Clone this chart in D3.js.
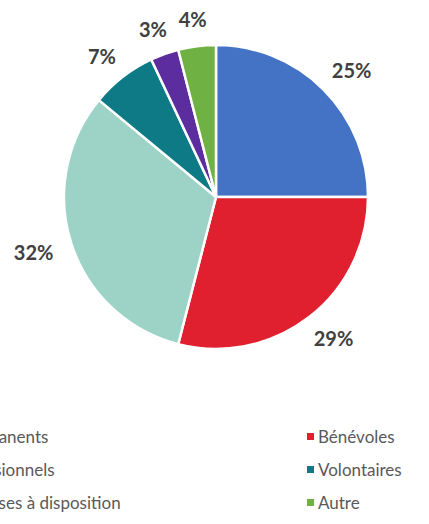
<!DOCTYPE html>
<html>
<head>
<meta charset="utf-8">
<script src="https://cdn.jsdelivr.net/npm/d3@7"></script>
<style>
  html, body { margin: 0; padding: 0; background: #fff; overflow: hidden; }
  svg { display: block; }
</style>
</head>
<body>
<div id="chart"></div>
<script>

	//----------------------------
	// Data
	//----------------------------

	var categories = ["Salariés permanents", "Bénévoles", "Salariés occasionnels",
		"Volontaires", "Personnes mises à disposition", "Autre"];
	var values = [25, 29, 32, 7, 3, 4];
	var colors = ["#4472c4", "#e0202e", "#9dd3c6", "#0e7a86", "#5b2d9e", "#6fb142"];

	// legend order, 2 columns (left column is cut by the page edge)
	var legendOrder = [0, 1, 2, 3, 4, 5];

	//----------------------------
	// Layout
	//----------------------------

	var totwidth = 429,
		totheight = 524,
		cx = 216,
		cy = 197,
		radius = 152,
		labelGap = 20,
		labelSize = 20,
		legendTop = 436,
		legendRow = 33,
		legendColX = [-101, 318];

	var svg = d3.select("#chart").append("svg")
		.attr("width", totwidth)
		.attr("height", totheight);

	svg.append("rect")
		.attr("width", totwidth)
		.attr("height", totheight)
		.attr("fill", "white");

	var data = categories.map(function(c, i) {
		return {name: c, value: values[i], color: colors[i]};
	});

	var pie = d3.pie()
		.sort(null)
		.value(function(d) { return d.value; });

	var arcs = pie(data);

	var arc = d3.arc()
		.innerRadius(0)
		.outerRadius(radius);

	var g = svg.append("g")
		.attr("transform", "translate(" + cx + "," + cy + ")");

	// Slices

	g.append("g")
		.attr("class", "slices")
		.selectAll("path").data(arcs).enter().append("path")
			.attr("d", arc)
			.attr("fill", function(d) { return d.data.color; })
			.attr("stroke", "white")
			.attr("stroke-width", 2.5)
			.attr("stroke-linejoin", "round");

	// Outside-end labels: box pushed out along the mid angle

	var total = d3.sum(values);

	var labels = g.append("g")
		.attr("class", "labels")
		.selectAll("text").data(arcs).enter().append("text")
			.attr("text-anchor", "middle")
			.attr("dominant-baseline", "central")
			.style("font-family", "Lato, 'Open Sans', sans-serif")
			.style("font-weight", "bold")
			.style("font-size", labelSize + "px")
			.style("fill", "#404040")
			.text(function(d) { return Math.round(d.data.value / total * 100) + "%"; });

	labels.each(function(d) {
		var w = this.getComputedTextLength();
		var h = labelSize * 0.7;
		var a = (d.startAngle + d.endAngle) / 2;
		var sx = Math.sin(a), sy = -Math.cos(a);
		var r = radius + labelGap;
		d3.select(this)
			.attr("x", sx * r + sx * w / 2)
			.attr("y", sy * r + sy * h / 2);
	});

	// Legend

	var legend = svg.append("g")
		.attr("class", "legend")
		.selectAll("g").data(legendOrder).enter().append("g")
			.attr("transform", function(d, i) {
				var col = i % 2, row = Math.floor(i / 2);
				return "translate(" + legendColX[col] + "," + (legendTop + row * legendRow) + ")";
			});

	legend.append("rect")
		.attr("x", -11)
		.attr("y", -3)
		.attr("width", 7)
		.attr("height", 7)
		.attr("fill", function(d) { return colors[d]; });

	legend.append("text")
		.attr("x", 0)
		.attr("y", 0)
		.attr("dominant-baseline", "central")
		.style("font-family", "Lato, 'Open Sans', sans-serif")
		.style("font-size", "17px")
		.style("fill", "#595959")
		.text(function(d) { return categories[d]; });

</script>
</body>
</html>
